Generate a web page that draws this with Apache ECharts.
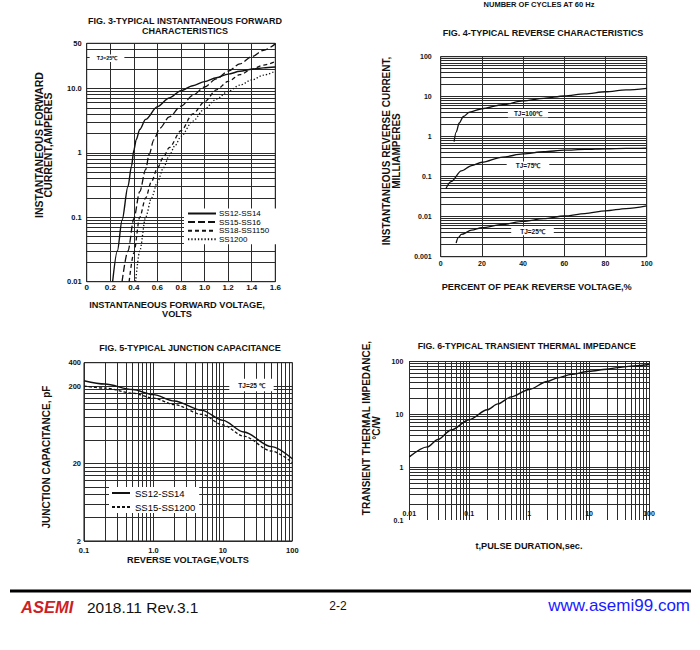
<!DOCTYPE html>
<html><head><meta charset="utf-8">
<script src="https://cdn.jsdelivr.net/npm/echarts@6.0.0/dist/echarts.min.js"></script>
<style>html,body{margin:0;padding:0;background:#fff;}#c{width:700px;height:650px;}</style>
</head><body><div id="c"></div>
<script>
// ---------- FIG. 3 : forward characteristics (volts, amperes) ----------
const ss12_14 = [[0.22,0.01],[0.26,0.03],[0.30,0.09],[0.35,0.3],[0.38,0.62],[0.40,1.1],[0.42,1.6],[0.45,2.3],[0.50,3.3],[0.60,5.2],[0.70,7.1],[0.80,9.2],[0.90,11],[1.00,12.7],[1.10,14.6],[1.20,16.6],[1.30,18.4],[1.40,19.8],[1.50,20.8],[1.60,21.4]];
const ss15_16 = [[0.30,0.01],[0.35,0.03],[0.40,0.095],[0.45,0.25],[0.50,0.55],[0.53,0.95],[0.57,1.6],[0.62,2.4],[0.70,3.6],[0.80,5.3],[0.90,7.8],[1.00,10.5],[1.10,14],[1.20,18.5],[1.30,24],[1.40,31],[1.50,39],[1.60,49]];
const ss18_1150 = [[0.36,0.01],[0.40,0.028],[0.45,0.1],[0.50,0.2],[0.55,0.36],[0.60,0.58],[0.65,0.85],[0.70,1.2],[0.80,2.2],[0.90,4.0],[1.00,6.2],[1.10,9.5],[1.20,12.8],[1.30,16.3],[1.40,19.8],[1.50,23],[1.60,26]];
const ss1200 = [[0.415,0.01],[0.45,0.03],[0.50,0.1],[0.55,0.2],[0.60,0.35],[0.65,0.58],[0.70,0.9],[0.75,1.3],[0.80,1.8],[0.90,3.1],[1.00,4.8],[1.10,6.8],[1.20,9],[1.30,11.2],[1.40,13.5],[1.50,16],[1.60,18.5]];
const fig3YLabels = [0.01, 0.1, 1, 10, 50];

// ---------- FIG. 4 : reverse characteristics (% of VRRM, mA) ----------
const tj100 = [[6.5,0.75],[7.5,1.3],[9,2.2],[11,3.2],[14,4.1],[20,5.0],[30,6.3],[40,7.9],[50,9.1],[60,10.4],[70,11.8],[80,13.3],[90,14.8],[100,16.2]];
const tj75 = [[2.5,0.05],[5,0.075],[10,0.14],[15,0.19],[20,0.23],[30,0.31],[40,0.37],[50,0.42],[60,0.46],[70,0.48],[80,0.5],[90,0.51],[100,0.52]];
const tj25 = [[7.5,0.0022],[8.5,0.003],[10,0.0036],[15,0.0046],[20,0.0053],[30,0.0064],[40,0.0076],[50,0.0089],[60,0.0104],[70,0.012],[80,0.014],[90,0.016],[100,0.0186]];
const fig4YLabels = [0.001, 0.01, 0.1, 1, 10, 100];

// ---------- FIG. 5 : junction capacitance (volts, pF) ----------
const cap12_14 = [[0.1,234],[0.2,212],[0.5,180],[1,155],[2,128],[5,97],[10,72],[20,51],[50,33],[100,23]];
const cap15_1200 = [[0.1,200],[0.2,188],[0.5,162],[1,140],[2,115],[5,86],[10,63],[20,45],[50,29],[100,20.5]];
const fig5XLabels = [0.1, 1, 10, 100];
const fig5YLabels = [2, 20, 200, 400];

// ---------- FIG. 6 : transient thermal impedance (sec, °C/W) ----------
const zth = [[0.01,1.55],[0.02,2.4],[0.03,3.3],[0.05,5],[0.1,7.8],[0.2,12],[0.3,15.5],[0.5,21],[1,29],[2,41],[3,48],[5,56],[10,64],[20,70],[30,75],[50,80],[100,86]];
const fig6XLabels = [0.01, 0.1, 1, 10, 100];
const fig6YLabels = [0.1, 1, 10, 100];

// grid-line positions of log paper
function logTicks(min, max, mults) {
  const out = [];
  for (let e = -4; e <= 4; e++) {
    for (const m of mults) {
      const v = +(m * Math.pow(10, e)).toPrecision(6);
      if (v >= min * 0.9999 && v <= max * 1.0001 && out.indexOf(v) < 0) out.push(v);
    }
  }
  return out.sort((a, b) => a - b);
}
const M9 = [1,2,3,4,5,6,7,8,9];
const M2 = [2,4,6,8,10,12,14,16,18];

const FF = '"Liberation Sans", Arial, sans-serif';
const GRID_LINE = { show: true, lineStyle: { color: '#2b2b2b', width: 1 } };
const lbl = (size, extra) => Object.assign({ fontSize: size, fontWeight: 'bold', color: '#111', fontFamily: FF }, extra || {});

function txt(x, y, text, size, opt) {
  opt = opt || {};
  return {
    type: 'text', x: x, y: y, rotation: opt.rot || 0, z: 100,
    style: Object.assign({
      text: text, fontSize: size, fontWeight: opt.weight || 'bold', fontFamily: FF,
      fontStyle: opt.italic ? 'italic' : 'normal',
      fill: opt.fill || '#111',
      textAlign: opt.align || 'center', align: opt.align || 'center',
      textVerticalAlign: 'middle', verticalAlign: 'middle',
      lineHeight: opt.lh || size
    }, opt.bg ? { backgroundColor: '#fff', padding: opt.pad || [1, 5] } : {})
  };
}

const chart = echarts.init(document.getElementById('c'), null, { renderer: 'svg' });
const lineS = (name, data, xi, type, width) => ({
  type: 'line', name: name, xAxisIndex: xi, yAxisIndex: xi, data: data,
  symbol: 'none', smooth: 0.3, smoothMonotone: 'x', silent: true,
  lineStyle: { color: '#111', width: width || 1.3, type: type || 'solid' },
  itemStyle: { color: '#111' }
});

const option = {
  animation: false,
  backgroundColor: '#fff',
  grid: [
    { left: 86.7, top: 43.3, width: 188.6, height: 238.4, show: true, borderColor: '#111', borderWidth: 1, containLabel: false, outerBoundsMode: 'none' },
    { left: 440.7, top: 56.7, width: 206, height: 200, show: true, borderColor: '#111', borderWidth: 1, containLabel: false, outerBoundsMode: 'none' },
    { left: 84, top: 362.7, width: 208.3, height: 178.3, show: true, borderColor: '#111', borderWidth: 1, containLabel: false, outerBoundsMode: 'none' },
    { left: 409.3, top: 361, width: 239.7, height: 159, show: false, containLabel: false, outerBoundsMode: 'none' }
  ],
  xAxis: [
    { type: 'value', gridIndex: 0, min: 0, max: 1.6, interval: 0.2,
      axisLine: { show: false }, axisTick: { show: false }, splitLine: GRID_LINE,
      axisLabel: lbl(8, { margin: 2, formatter: v => (Math.abs(v) < 1e-9 ? '0' : v.toFixed(1)) }) },
    { type: 'value', gridIndex: 1, min: 0, max: 100, interval: 20,
      axisLine: { show: false }, axisTick: { show: false }, splitLine: GRID_LINE,
      axisLabel: lbl(7, { margin: 3 }) },
    { type: 'log', gridIndex: 2, min: 0.1, max: 100,
      axisLine: { show: false }, axisTick: { show: false, customValues: logTicks(0.1, 100, M9) }, splitLine: GRID_LINE,
      axisLabel: lbl(7.5, { margin: 5, customValues: fig5XLabels, formatter: v => (v === 1 ? '1.0' : String(v)) }) },
    { type: 'log', gridIndex: 3, min: 0.01, max: 100,
      axisLine: { show: false }, axisTick: { show: false, customValues: logTicks(0.01, 100, M9) }, splitLine: GRID_LINE,
      axisLabel: lbl(7, { inside: true, margin: 3, customValues: fig6XLabels, formatter: v => String(v) }) }
  ],
  yAxis: [
    { type: 'log', gridIndex: 0, min: 0.01, max: 50,
      axisLine: { show: false }, axisTick: { show: false, customValues: logTicks(0.01, 50, M9) }, splitLine: GRID_LINE,
      axisLabel: lbl(7.5, { margin: 5, customValues: fig3YLabels, formatter: v => (v === 10 ? '10.0' : String(v)) }) },
    { type: 'log', gridIndex: 1, min: 0.001, max: 100,
      axisLine: { show: false }, axisTick: { show: false, customValues: logTicks(0.001, 100, M9) }, splitLine: GRID_LINE,
      axisLabel: lbl(7, { margin: 9, customValues: fig4YLabels, formatter: v => String(v) }) },
    { type: 'log', gridIndex: 2, min: 2, max: 400,
      axisLine: { show: false }, axisTick: { show: false, customValues: logTicks(2, 400, M2) }, splitLine: GRID_LINE,
      axisLabel: lbl(7.5, { margin: 3, customValues: fig5YLabels, formatter: v => String(v) }) },
    { type: 'log', gridIndex: 3, min: 0.1, max: 100,
      axisLine: { show: false }, axisTick: { show: false, customValues: logTicks(0.2, 100, M9) }, splitLine: GRID_LINE,
      axisLabel: lbl(7, { margin: 6, customValues: fig6YLabels, formatter: v => String(v) }) }
  ],
  legend: [
    { data: ['SS12-SS14', 'SS15-SS16', 'SS18-SS1150', 'SS1200'], orient: 'vertical', left: 184, top: 208.5,
      itemWidth: 28, itemHeight: 8, itemGap: 0.6, padding: [1, 8, 1, 3], backgroundColor: '#fff',
      itemStyle: { opacity: 0 },
      selectedMode: false, textStyle: { fontSize: 8, color: '#000', fontFamily: FF, padding: [0, 0, 0, -2] } },
    { data: ['SS12-SS14', 'SS15-SS1200'], orient: 'vertical', left: 109, top: 487,
      itemWidth: 18, itemHeight: 11, itemGap: 4, padding: [1, 4, 1, 2], backgroundColor: '#fff',
      itemStyle: { opacity: 0 },
      selectedMode: false, textStyle: { fontSize: 9.5, color: '#000', fontFamily: FF } }
  ],
  series: [
    lineS('SS12-SS14', ss12_14, 0, 'solid', 1.4),
    lineS('SS15-SS16', ss15_16, 0, [7, 3], 1.3),
    lineS('SS18-SS1150', ss18_1150, 0, [4, 3], 1.3),
    lineS('SS1200', ss1200, 0, [1.3, 2], 1.3),
    lineS('TJ=100℃', tj100, 1, 'solid', 1.3),
    lineS('TJ=75℃', tj75, 1, 'solid', 1.3),
    lineS('TJ=25℃', tj25, 1, 'solid', 1.3),
    lineS('SS12-SS14', cap12_14, 2, 'solid', 1.4),
    lineS('SS15-SS1200', cap15_1200, 2, [3, 2], 1.3),
    lineS('Zth', zth, 3, 'solid', 1.4)
  ],
  graphic: { elements: [
    txt(539, 4.5, 'NUMBER OF CYCLES AT 60 Hz', 7.5),
    // fig 3
    txt(185, 25.5, 'FIG. 3-TYPICAL INSTANTANEOUS FORWARD\nCHARACTERISTICS', 9, { lh: 10 }),
    txt(177, 309.5, 'INSTANTANEOUS FORWARD VOLTAGE,\nVOLTS', 9.2, { lh: 9.5 }),
    txt(43.5, 145, 'INSTANTANEOUS FORWARD\nCURRENT,AMPERES', 10.5, { rot: Math.PI / 2, lh: 9 }),
    txt(107, 58.3, 'TJ=25℃', 5.5, { bg: true, pad: [1, 7] }),
    // fig 4
    txt(543, 32.7, 'FIG. 4-TYPICAL REVERSE CHARACTERISTICS', 9),
    txt(536.7, 287.3, 'PERCENT OF PEAK REVERSE VOLTAGE,%', 9.2),
    txt(391.7, 151, 'INSTANTANEOUS REVERSE CURRENT,\nMILLIAMPERES', 10, { rot: Math.PI / 2, lh: 10 }),
    txt(528, 113.3, 'TJ=100℃', 6.5, { bg: true, pad: [1, 6] }),
    txt(528, 165.7, 'TJ=75℃', 6.5, { bg: true, pad: [1, 9] }),
    txt(532.5, 231, 'TJ=25℃', 6.5, { bg: true, pad: [1, 9] }),
    // fig 5
    txt(190, 348.3, 'FIG. 5-TYPICAL JUNCTION CAPACITANCE', 9),
    txt(188, 560, 'REVERSE VOLTAGE,VOLTS', 9.2),
    txt(46.7, 457, 'JUNCTION CAPACITANCE, pF', 10, { rot: Math.PI / 2 }),
    txt(251.5, 385, 'TJ=25 ℃', 6.5, { bg: true, pad: [3, 9] }),
    // fig 6
    txt(526.7, 345.7, 'FIG. 6-TYPICAL TRANSIENT THERMAL IMPEDANCE', 8.8),
    txt(529, 546, 't,PULSE DURATION,sec.', 9.2),
    txt(371.7, 428, 'TRANSIENT THERMAL IMPEDANCE,\n°C/W', 10, { rot: Math.PI / 2, lh: 10 }),
    // footer
    { type: 'line', shape: { x1: 10, y1: 591, x2: 691, y2: 591 }, style: { stroke: '#000', lineWidth: 3 } },
    txt(21, 607, 'ASEMI', 16.5, { align: 'left', italic: true, weight: 900, fill: '#cc1f26' }),
    txt(87, 607.5, '2018.11 Rev.3.1', 15.5, { align: 'left', weight: 'normal' }),
    txt(338, 606, '2-2', 12, { weight: 'normal' }),
    txt(690, 605, 'www.asemi99.com', 17, { align: 'right', weight: 'normal', fill: '#1a1aff' })
  ] }
};
chart.setOption(option);
</script>
</body></html>
